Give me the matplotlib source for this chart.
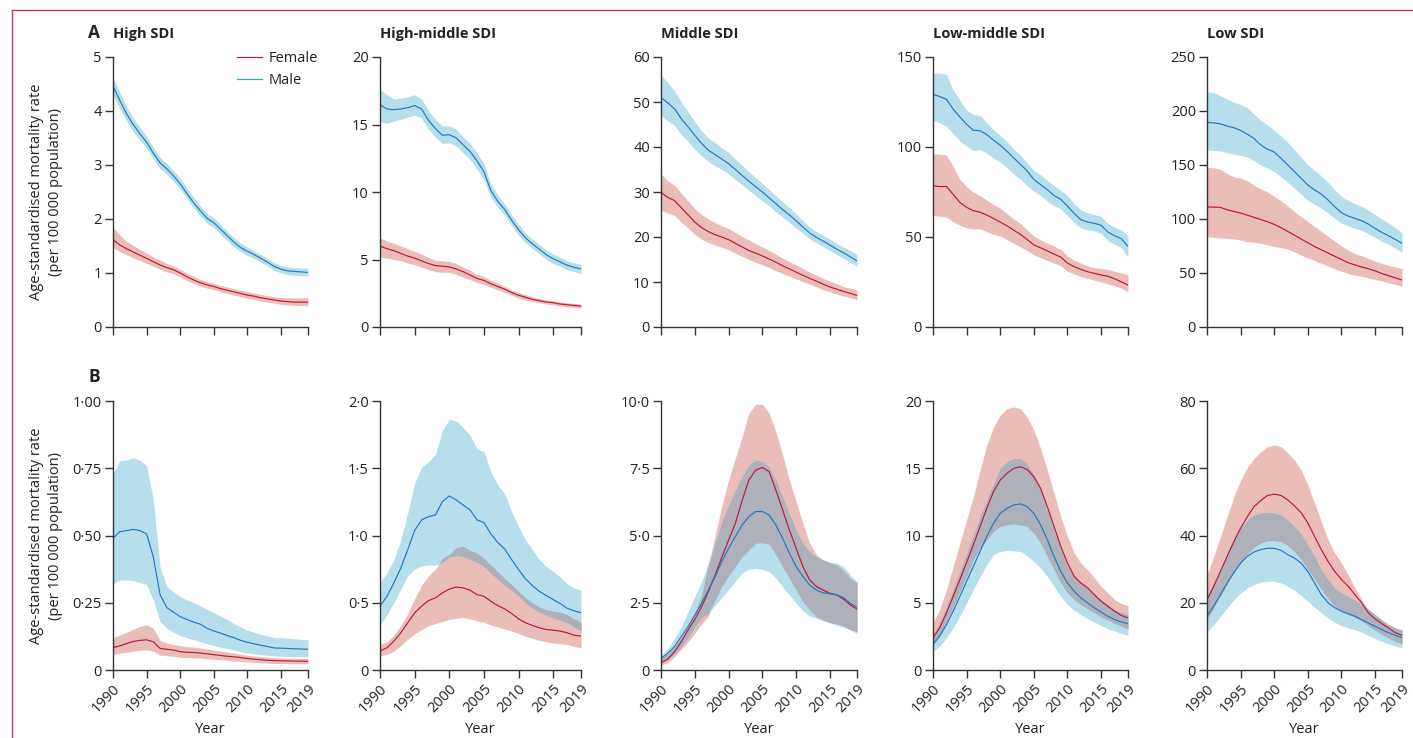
import matplotlib
matplotlib.use("Agg")
import matplotlib.pyplot as plt
import numpy as np
from matplotlib.lines import Line2D

plt.rcParams['font.family'] = ['Open Sans', 'DejaVu Sans']

years = np.arange(1990, 2020)
x_ticks = [1990, 1995, 2000, 2005, 2010, 2015, 2019]
titles = ["High SDI", "High-middle SDI", "Middle SDI", "Low-middle SDI", "Low SDI"]

# ---- row A ----
a1_f = [1.62, 1.52, 1.45, 1.39, 1.33, 1.27, 1.21, 1.15, 1.1, 1.06, 1.0, 0.93, 0.87, 0.82, 0.78, 0.75, 0.71, 0.68, 0.65, 0.62, 0.59, 0.57, 0.54, 0.52, 0.5, 0.48, 0.47, 0.46, 0.46, 0.46]
a1_f_hi = [1.85, 1.7, 1.59, 1.51, 1.44, 1.37, 1.3, 1.24, 1.18, 1.13, 1.07, 1.0, 0.94, 0.88, 0.84, 0.81, 0.77, 0.74, 0.71, 0.68, 0.65, 0.63, 0.6, 0.58, 0.56, 0.55, 0.54, 0.54, 0.54, 0.54]
a1_f_lo = [1.47, 1.4, 1.34, 1.28, 1.23, 1.18, 1.12, 1.07, 1.02, 0.99, 0.93, 0.86, 0.81, 0.76, 0.72, 0.69, 0.65, 0.62, 0.59, 0.56, 0.53, 0.51, 0.48, 0.46, 0.44, 0.42, 0.41, 0.4, 0.4, 0.4]
a1_m = [4.46, 4.2, 3.95, 3.75, 3.58, 3.42, 3.22, 3.04, 2.93, 2.8, 2.65, 2.47, 2.3, 2.15, 2.01, 1.93, 1.81, 1.69, 1.57, 1.47, 1.4, 1.34, 1.27, 1.2, 1.12, 1.07, 1.04, 1.03, 1.02, 1.01]
a1_m_hi = [4.62, 4.35, 4.08, 3.87, 3.7, 3.53, 3.33, 3.14, 3.03, 2.9, 2.75, 2.57, 2.4, 2.24, 2.1, 2.02, 1.9, 1.77, 1.65, 1.55, 1.48, 1.41, 1.34, 1.27, 1.19, 1.14, 1.11, 1.1, 1.09, 1.09]
a1_m_lo = [4.3, 4.05, 3.82, 3.62, 3.46, 3.31, 3.11, 2.93, 2.83, 2.7, 2.55, 2.38, 2.21, 2.06, 1.92, 1.84, 1.72, 1.6, 1.48, 1.39, 1.32, 1.27, 1.2, 1.13, 1.05, 1.0, 0.97, 0.96, 0.95, 0.94]

a2_f = [6.0, 5.8, 5.65, 5.45, 5.25, 5.1, 4.9, 4.7, 4.55, 4.5, 4.45, 4.3, 4.1, 3.85, 3.6, 3.45, 3.2, 3.0, 2.8, 2.55, 2.35, 2.2, 2.05, 1.95, 1.85, 1.8, 1.7, 1.65, 1.6, 1.55]
a2_f_hi = [6.6, 6.35, 6.2, 6.0, 5.8, 5.6, 5.4, 5.15, 4.95, 4.9, 4.85, 4.7, 4.45, 4.2, 3.9, 3.75, 3.45, 3.25, 3.0, 2.75, 2.55, 2.4, 2.25, 2.1, 2.0, 1.95, 1.85, 1.8, 1.75, 1.7]
a2_f_lo = [5.2, 5.1, 5.0, 4.9, 4.75, 4.6, 4.45, 4.25, 4.1, 4.05, 4.05, 3.9, 3.7, 3.5, 3.3, 3.15, 2.95, 2.75, 2.55, 2.35, 2.15, 2.0, 1.9, 1.8, 1.7, 1.65, 1.55, 1.5, 1.45, 1.4]
a2_m = [16.47, 16.15, 16.1, 16.15, 16.25, 16.4, 16.15, 15.3, 14.7, 14.2, 14.25, 14.0, 13.5, 13.0, 12.3, 11.5, 10.1, 9.3, 8.7, 7.9, 7.2, 6.6, 6.15, 5.75, 5.35, 5.05, 4.82, 4.58, 4.42, 4.3]
a2_m_hi = [17.6, 17.2, 16.9, 16.95, 17.05, 17.2, 16.9, 16.0, 15.4, 14.9, 14.9, 14.65, 14.1, 13.6, 12.9, 12.1, 10.6, 9.75, 9.1, 8.3, 7.6, 6.95, 6.5, 6.1, 5.7, 5.4, 5.15, 4.9, 4.75, 4.65]
a2_m_lo = [15.2, 15.1, 15.25, 15.4, 15.55, 15.7, 15.45, 14.65, 14.05, 13.6, 13.65, 13.4, 12.9, 12.4, 11.7, 10.9, 9.6, 8.85, 8.3, 7.5, 6.8, 6.25, 5.8, 5.4, 5.0, 4.7, 4.5, 4.25, 4.1, 3.95]

a3_f = [29.9, 28.8, 28.1, 26.5, 24.9, 23.3, 22.1, 21.2, 20.5, 20.0, 19.4, 18.6, 17.8, 17.0, 16.4, 15.8, 15.1, 14.4, 13.6, 12.9, 12.2, 11.5, 10.8, 10.2, 9.5, 8.9, 8.4, 7.9, 7.5, 7.0]
a3_f_hi = [34.0, 32.5, 31.5, 29.7, 28.0, 26.3, 25.0, 24.0, 23.2, 22.5, 21.9, 21.0, 20.1, 19.3, 18.5, 17.8, 17.0, 16.2, 15.3, 14.5, 13.8, 13.0, 12.2, 11.5, 10.8, 10.2, 9.6, 9.0, 8.6, 8.2]
a3_f_lo = [26.0, 25.3, 24.8, 23.3, 22.0, 20.6, 19.5, 18.8, 18.2, 17.7, 17.2, 16.4, 15.7, 15.0, 14.4, 13.8, 13.2, 12.5, 11.9, 11.3, 10.7, 10.1, 9.5, 8.9, 8.3, 7.8, 7.3, 6.9, 6.5, 6.1]
a3_m = [51.0, 49.8, 48.5, 46.3, 44.5, 42.6, 40.8, 39.3, 38.3, 37.3, 36.3, 35.0, 33.7, 32.4, 31.2, 30.0, 28.7, 27.4, 26.1, 24.9, 23.6, 22.2, 20.9, 19.9, 19.1, 18.2, 17.3, 16.5, 15.6, 14.7]
a3_m_hi = [56.0, 54.3, 52.5, 50.0, 47.8, 45.6, 43.6, 42.0, 41.0, 39.8, 38.8, 37.3, 35.9, 34.5, 33.2, 31.9, 30.6, 29.2, 27.8, 26.5, 25.1, 23.6, 22.2, 21.2, 20.4, 19.5, 18.6, 17.8, 17.0, 16.1]
a3_m_lo = [47.0, 45.8, 44.8, 42.8, 41.2, 39.5, 38.0, 36.8, 35.8, 35.0, 34.0, 32.8, 31.6, 30.4, 29.2, 28.0, 26.9, 25.6, 24.4, 23.2, 22.0, 20.8, 19.6, 18.7, 17.9, 17.0, 16.1, 15.3, 14.4, 13.5]

a4_f = [78.5, 78.0, 78.1, 73.7, 69.2, 66.5, 64.6, 63.8, 62.2, 60.3, 58.3, 56.2, 53.8, 51.5, 48.6, 45.6, 44.0, 42.3, 40.5, 38.8, 35.5, 33.5, 32.0, 30.7, 29.8, 28.9, 28.2, 26.8, 25.1, 23.3]
a4_f_hi = [96.3, 96.0, 95.5, 89.0, 82.0, 78.0, 75.0, 73.0, 70.5, 68.0, 66.0, 63.0, 60.0, 57.5, 54.0, 50.5, 48.5, 46.5, 45.0, 43.0, 39.5, 37.0, 35.5, 34.0, 33.0, 32.5, 32.0, 31.0, 30.0, 29.0]
a4_f_lo = [62.0, 61.5, 61.0, 58.5, 56.5, 55.0, 54.5, 54.5, 53.0, 51.5, 50.5, 48.5, 46.5, 44.5, 42.5, 40.0, 38.5, 37.0, 35.5, 34.0, 31.0, 29.5, 28.0, 27.0, 26.0, 25.0, 24.0, 23.0, 21.5, 19.5]
a4_m = [129.3, 128.0, 126.5, 121.0, 116.7, 112.6, 109.3, 109.0, 106.9, 103.7, 101.1, 97.6, 93.9, 90.4, 86.7, 81.9, 79.1, 76.3, 73.0, 70.9, 67.2, 63.0, 59.6, 58.3, 57.6, 56.5, 52.8, 50.7, 49.1, 44.8]
a4_m_hi = [141.1, 141.0, 140.4, 131.5, 126.0, 120.5, 118.1, 117.5, 113.5, 109.5, 106.5, 103.0, 99.0, 95.5, 91.0, 87.0, 84.5, 81.5, 78.5, 76.0, 73.0, 68.5, 65.0, 63.5, 62.5, 61.5, 57.5, 55.5, 54.0, 50.5]
a4_m_lo = [114.8, 113.5, 111.5, 107.5, 103.5, 100.5, 98.0, 98.5, 96.5, 94.0, 91.5, 88.5, 85.0, 82.0, 78.5, 75.5, 73.0, 70.0, 67.5, 65.5, 62.0, 58.0, 55.0, 54.0, 53.5, 52.0, 48.0, 46.0, 44.0, 39.0]

a5_f = [111.1, 111.0, 110.8, 108.5, 107.0, 105.5, 103.5, 101.5, 99.5, 97.5, 95.0, 92.0, 88.5, 85.0, 81.5, 78.0, 74.5, 71.5, 68.5, 65.5, 62.5, 59.5, 57.5, 55.5, 54.0, 52.0, 49.5, 47.5, 45.5, 43.5]
a5_f_hi = [147.9, 147.5, 146.0, 142.0, 139.0, 138.0, 135.5, 131.0, 128.0, 125.0, 121.0, 117.0, 112.0, 107.0, 102.0, 97.5, 93.0, 88.5, 84.0, 79.5, 75.0, 71.0, 68.0, 66.0, 63.5, 61.0, 59.0, 57.0, 55.5, 54.0]
a5_f_lo = [83.5, 83.0, 82.5, 82.0, 81.5, 80.5, 79.0, 78.5, 77.5, 76.0, 74.5, 73.5, 72.0, 69.5, 66.5, 64.0, 61.5, 59.0, 56.5, 54.0, 51.5, 49.5, 48.0, 47.0, 45.5, 44.0, 42.5, 41.0, 39.5, 38.0]
a5_m = [189.4, 189.0, 188.1, 186.0, 184.5, 182.0, 178.5, 174.5, 168.5, 164.5, 162.0, 156.2, 150.0, 143.9, 137.7, 131.5, 126.9, 123.1, 117.6, 111.4, 105.8, 102.7, 100.6, 98.4, 95.3, 91.3, 87.6, 84.5, 81.1, 77.4]
a5_m_hi = [217.5, 217.0, 214.0, 211.0, 208.0, 206.0, 203.0, 197.0, 191.0, 187.0, 182.0, 177.0, 171.0, 164.0, 157.0, 150.0, 145.0, 140.0, 134.0, 127.0, 121.0, 117.0, 114.0, 112.0, 108.0, 104.0, 100.0, 96.0, 92.0, 87.0]
a5_m_lo = [164.3, 163.5, 163.0, 161.5, 160.0, 159.0, 157.5, 154.0, 150.0, 147.0, 144.0, 139.0, 134.0, 128.5, 123.0, 117.5, 113.5, 110.0, 105.5, 100.5, 96.0, 93.5, 91.5, 89.5, 86.5, 83.0, 79.5, 76.5, 73.0, 69.0]

# ---- row B ----
b1_f = [0.083, 0.09, 0.098, 0.106, 0.11, 0.112, 0.105, 0.08, 0.077, 0.074, 0.068, 0.066, 0.065, 0.063, 0.06, 0.057, 0.054, 0.051, 0.049, 0.046, 0.043, 0.04, 0.038, 0.036, 0.035, 0.034, 0.034, 0.033, 0.033, 0.032]
b1_f_hi = [0.12, 0.13, 0.14, 0.152, 0.162, 0.168, 0.155, 0.11, 0.1, 0.095, 0.09, 0.087, 0.085, 0.082, 0.078, 0.074, 0.07, 0.067, 0.063, 0.059, 0.055, 0.052, 0.05, 0.048, 0.046, 0.045, 0.044, 0.044, 0.043, 0.043]
b1_f_lo = [0.058, 0.062, 0.066, 0.07, 0.073, 0.075, 0.07, 0.055, 0.053, 0.051, 0.047, 0.046, 0.045, 0.044, 0.042, 0.04, 0.038, 0.036, 0.034, 0.032, 0.03, 0.028, 0.027, 0.025, 0.024, 0.024, 0.023, 0.023, 0.023, 0.023]
b1_m = [0.49, 0.514, 0.518, 0.523, 0.518, 0.506, 0.42, 0.28, 0.232, 0.215, 0.198, 0.188, 0.178, 0.17, 0.155, 0.145, 0.137, 0.128, 0.12, 0.11, 0.103, 0.097, 0.092, 0.087, 0.082, 0.081, 0.08, 0.079, 0.078, 0.077]
b1_m_hi = [0.73, 0.778, 0.78, 0.789, 0.78, 0.758, 0.632, 0.384, 0.31, 0.29, 0.273, 0.26, 0.25, 0.238, 0.225, 0.213, 0.2, 0.188, 0.172, 0.16, 0.148, 0.14, 0.133, 0.127, 0.12, 0.12, 0.118, 0.116, 0.114, 0.112]
b1_m_lo = [0.32, 0.335, 0.334, 0.333, 0.325, 0.318, 0.26, 0.18, 0.155, 0.14, 0.128, 0.12, 0.113, 0.105, 0.097, 0.091, 0.085, 0.08, 0.074, 0.068, 0.063, 0.06, 0.057, 0.055, 0.052, 0.051, 0.05, 0.05, 0.05, 0.049]

b2_f = [0.141, 0.165, 0.215, 0.277, 0.351, 0.425, 0.474, 0.516, 0.536, 0.573, 0.602, 0.617, 0.61, 0.593, 0.56, 0.548, 0.511, 0.479, 0.454, 0.42, 0.38, 0.351, 0.331, 0.314, 0.301, 0.296, 0.289, 0.277, 0.259, 0.252]
b2_f_hi = [0.19, 0.21, 0.26, 0.33, 0.42, 0.53, 0.63, 0.7, 0.75, 0.83, 0.86, 0.91, 0.92, 0.89, 0.87, 0.83, 0.78, 0.73, 0.68, 0.635, 0.585, 0.535, 0.5, 0.467, 0.449, 0.437, 0.43, 0.412, 0.38, 0.356]
b2_f_lo = [0.104, 0.115, 0.14, 0.18, 0.23, 0.27, 0.3, 0.33, 0.345, 0.36, 0.375, 0.385, 0.39, 0.38, 0.365, 0.355, 0.335, 0.32, 0.305, 0.29, 0.27, 0.25, 0.235, 0.22, 0.21, 0.2, 0.195, 0.19, 0.175, 0.165]
b2_m = [0.474, 0.548, 0.647, 0.758, 0.894, 1.037, 1.116, 1.14, 1.153, 1.252, 1.294, 1.264, 1.227, 1.19, 1.116, 1.096, 1.012, 0.948, 0.899, 0.82, 0.746, 0.677, 0.627, 0.585, 0.553, 0.523, 0.494, 0.459, 0.44, 0.425]
b2_m_hi = [0.652, 0.721, 0.82, 0.968, 1.165, 1.388, 1.506, 1.548, 1.605, 1.783, 1.864, 1.852, 1.802, 1.746, 1.642, 1.622, 1.474, 1.375, 1.309, 1.178, 1.067, 0.968, 0.894, 0.82, 0.77, 0.733, 0.691, 0.642, 0.61, 0.593]
b2_m_lo = [0.338, 0.41, 0.5, 0.6, 0.7, 0.75, 0.775, 0.78, 0.78, 0.8, 0.84, 0.85, 0.845, 0.82, 0.8, 0.77, 0.72, 0.67, 0.63, 0.59, 0.55, 0.5, 0.46, 0.43, 0.405, 0.385, 0.37, 0.35, 0.32, 0.29]

b3_f = [0.27, 0.4, 0.68, 1.05, 1.49, 1.88, 2.35, 2.91, 3.53, 4.19, 4.83, 5.45, 6.3, 7.06, 7.43, 7.53, 7.37, 6.69, 5.95, 5.2, 4.52, 3.84, 3.35, 3.1, 2.97, 2.85, 2.79, 2.63, 2.42, 2.26]
b3_f_hi = [0.45, 0.6, 0.85, 1.2, 1.6, 2.1, 2.8, 3.9, 5.0, 6.1, 7.06, 7.87, 8.67, 9.54, 9.88, 9.88, 9.54, 8.86, 7.99, 7.06, 6.26, 5.45, 4.71, 4.28, 4.09, 3.99, 3.9, 3.7, 3.41, 3.25]
b3_f_lo = [0.19, 0.27, 0.5, 0.77, 1.05, 1.36, 1.71, 2.0, 2.6, 3.1, 3.5, 3.84, 4.21, 4.46, 4.71, 4.73, 4.68, 4.28, 3.84, 3.41, 2.97, 2.54, 2.23, 1.98, 1.86, 1.76, 1.71, 1.64, 1.49, 1.36]
b3_m = [0.43, 0.62, 0.87, 1.24, 1.61, 2.04, 2.48, 2.97, 3.47, 4.03, 4.52, 4.96, 5.39, 5.7, 5.89, 5.89, 5.76, 5.39, 4.89, 4.34, 3.84, 3.47, 3.16, 2.97, 2.87, 2.83, 2.79, 2.69, 2.48, 2.33]
b3_m_hi = [0.56, 0.8, 1.18, 1.61, 2.17, 2.73, 3.28, 3.97, 4.71, 5.51, 6.13, 6.69, 7.19, 7.62, 7.81, 7.74, 7.56, 7.06, 6.44, 5.82, 5.2, 4.71, 4.4, 4.21, 4.09, 4.0, 3.97, 3.84, 3.53, 3.28]
b3_m_lo = [0.28, 0.4, 0.6, 0.85, 1.2, 1.6, 1.95, 2.1, 2.4, 2.7, 3.0, 3.3, 3.62, 3.74, 3.78, 3.74, 3.66, 3.41, 3.1, 2.79, 2.48, 2.21, 2.01, 1.92, 1.83, 1.76, 1.67, 1.59, 1.5, 1.43]

b4_f = [2.4, 3.14, 4.25, 5.48, 6.72, 8.0, 9.31, 10.67, 12.02, 13.26, 14.12, 14.62, 14.99, 15.11, 14.91, 14.37, 13.51, 12.15, 10.67, 9.19, 7.95, 6.96, 6.47, 6.1, 5.6, 5.11, 4.74, 4.37, 4.05, 3.88]
b4_f_hi = [3.5, 4.5, 5.98, 7.7, 9.43, 11.16, 12.89, 14.86, 16.72, 18.07, 18.94, 19.43, 19.56, 19.43, 18.81, 17.83, 16.47, 14.86, 13.14, 11.41, 9.93, 8.69, 7.95, 7.46, 6.84, 6.22, 5.73, 5.23, 4.94, 4.79]
b4_f_lo = [2.02, 2.64, 3.63, 4.74, 5.85, 6.96, 8.2, 9.06, 9.68, 10.3, 10.67, 10.79, 10.86, 10.79, 10.67, 10.17, 9.43, 8.44, 7.46, 6.47, 5.73, 5.23, 4.86, 4.54, 4.25, 3.95, 3.7, 3.46, 3.26, 3.06]
b4_m = [1.9, 2.52, 3.38, 4.37, 5.48, 6.59, 7.7, 8.81, 9.93, 10.91, 11.65, 12.02, 12.27, 12.35, 12.15, 11.65, 10.79, 9.68, 8.44, 7.33, 6.47, 5.85, 5.36, 4.99, 4.62, 4.3, 4.0, 3.75, 3.56, 3.46]
b4_m_hi = [2.64, 3.5, 4.74, 5.98, 7.33, 8.69, 10.05, 11.41, 12.64, 13.88, 14.99, 15.48, 15.73, 15.73, 15.36, 14.49, 13.38, 11.9, 10.42, 8.94, 7.7, 6.96, 6.47, 6.02, 5.6, 5.23, 4.86, 4.49, 4.3, 4.12]
b4_m_lo = [1.41, 1.78, 2.4, 3.14, 4.0, 4.99, 5.98, 6.96, 7.83, 8.57, 8.81, 8.89, 8.86, 8.81, 8.49, 8.07, 7.58, 6.96, 6.22, 5.48, 4.86, 4.44, 4.12, 3.8, 3.56, 3.31, 3.06, 2.89, 2.72, 2.57]

b5_f = [20.9, 24.9, 29.3, 33.8, 38.2, 42.2, 45.6, 48.6, 50.4, 51.9, 52.3, 51.9, 50.6, 48.8, 46.8, 43.7, 39.7, 35.8, 32.3, 29.3, 26.9, 24.9, 22.4, 20.0, 17.0, 15.2, 13.8, 12.5, 11.1, 10.3]
b5_f_hi = [28.3, 33.8, 39.7, 45.6, 51.6, 56.5, 60.2, 62.9, 64.9, 66.4, 66.9, 66.4, 64.6, 62.4, 59.5, 55.0, 49.6, 44.1, 38.7, 34.8, 31.8, 28.3, 24.4, 20.9, 18.0, 16.5, 14.8, 13.5, 12.5, 11.9]
b5_f_lo = [15.0, 18.5, 22.0, 25.5, 29.0, 32.0, 34.5, 36.5, 37.8, 38.4, 38.5, 38.2, 37.0, 35.2, 32.8, 30.0, 27.0, 24.0, 21.3, 19.0, 17.5, 16.5, 15.6, 14.5, 13.2, 11.8, 10.6, 9.5, 8.5, 7.8]
b5_m = [16.0, 19.0, 22.4, 25.9, 29.0, 31.8, 33.8, 35.1, 35.8, 36.2, 36.2, 35.6, 34.3, 33.3, 31.8, 29.3, 25.9, 22.4, 20.0, 18.5, 17.5, 16.7, 16.0, 15.0, 14.0, 13.0, 12.0, 11.1, 10.3, 9.6]
b5_m_hi = [21.9, 25.9, 30.3, 34.8, 38.7, 42.2, 44.6, 46.1, 46.8, 46.9, 46.8, 46.1, 44.6, 42.7, 40.5, 37.2, 33.8, 29.8, 26.9, 24.4, 22.9, 21.9, 20.9, 19.5, 18.0, 16.5, 15.0, 13.5, 12.5, 11.9]
b5_m_lo = [11.3, 13.5, 16.0, 18.5, 20.9, 22.9, 24.4, 25.4, 26.1, 26.4, 26.4, 25.9, 24.9, 23.7, 22.1, 20.4, 18.7, 17.0, 15.5, 14.2, 13.2, 12.5, 12.0, 11.3, 10.3, 9.3, 8.5, 7.8, 7.1, 6.6]

# y ticks per panel
a_yticks = [[0, 1, 2, 3, 4, 5], [0, 5, 10, 15, 20], [0, 10, 20, 30, 40, 50, 60],
            [0, 50, 100, 150], [0, 50, 100, 150, 200, 250]]
b_yticks = [[0, 0.25, 0.5, 0.75, 1.0], [0, 0.5, 1.0, 1.5, 2.0], [0, 2.5, 5.0, 7.5, 10.0],
            [0, 5, 10, 15, 20], [0, 20, 40, 60, 80]]
b_ylabels = [["0", "0·25", "0·50", "0·75", "1·00"], ["0", "0·5", "1·0", "1·5", "2·0"],
             ["0", "2·5", "5·0", "7·5", "10·0"], ["0", "5", "10", "15", "20"],
             ["0", "20", "40", "60", "80"]]

row_a = [(a1_f, a1_f_lo, a1_f_hi, a1_m, a1_m_lo, a1_m_hi),
         (a2_f, a2_f_lo, a2_f_hi, a2_m, a2_m_lo, a2_m_hi),
         (a3_f, a3_f_lo, a3_f_hi, a3_m, a3_m_lo, a3_m_hi),
         (a4_f, a4_f_lo, a4_f_hi, a4_m, a4_m_lo, a4_m_hi),
         (a5_f, a5_f_lo, a5_f_hi, a5_m, a5_m_lo, a5_m_hi)]
row_b = [(b1_f, b1_f_lo, b1_f_hi, b1_m, b1_m_lo, b1_m_hi),
         (b2_f, b2_f_lo, b2_f_hi, b2_m, b2_m_lo, b2_m_hi),
         (b3_f, b3_f_lo, b3_f_hi, b3_m, b3_m_lo, b3_m_hi),
         (b4_f, b4_f_lo, b4_f_hi, b4_m, b4_m_lo, b4_m_hi),
         (b5_f, b5_f_lo, b5_f_hi, b5_m, b5_m_lo, b5_m_hi)]

F_LINE = "#c0163f"
M_LINE = "#2179c2"
F_BAND = "#ebbdb8"
M_BAND = "#b6deeb"
OVERLAP = "#aeb1ba"
AXIS = "#333333"
TXT = "#222222"
FS = 10.5

W, H = 1413, 738
fig = plt.figure(figsize=(W / 100, H / 100), dpi=100)

# panel geometry in pixels
lefts = [113, 380, 661, 933, 1207]
widths = [195, 201, 196, 195, 195]
row_tops = [57, 401]
row_bots = [327, 670]


def draw(ax, series, yticks, ylabels, xlabels):
    f, f_lo, f_hi, m, m_lo, m_hi = [np.asarray(s) for s in series]
    ax.fill_between(years, f_lo, f_hi, color=F_BAND, lw=0)
    ax.fill_between(years, m_lo, m_hi, color=M_BAND, lw=0)
    top = np.minimum(f_hi, m_hi)
    bot = np.maximum(f_lo, m_lo)
    ax.fill_between(years, bot, top, where=top > bot, interpolate=True, color=OVERLAP, lw=0)
    ax.plot(years, f, color=F_LINE, lw=0.85, label="Female")
    ax.plot(years, m, color=M_LINE, lw=0.85, label="Male")
    ax.set_xlim(1990, 2019)
    ax.set_ylim(yticks[0], yticks[-1])
    ax.set_yticks(yticks)
    ax.set_yticklabels(ylabels)
    ax.set_xticks(x_ticks)
    if xlabels:
        ax.set_xticklabels([str(t) for t in x_ticks], rotation=45, ha="right",
                           rotation_mode="anchor")
        ax.set_xlabel("Year", fontsize=FS, color=TXT, labelpad=5)
    else:
        ax.set_xticklabels([])
    for s in ["top", "right"]:
        ax.spines[s].set_visible(False)
    for s in ["left", "bottom"]:
        ax.spines[s].set_color(AXIS)
        ax.spines[s].set_linewidth(1.0)
    ax.tick_params(direction="out", length=6, width=1.0, color=AXIS,
                   labelsize=FS, labelcolor=TXT, pad=2)
    ax.set_facecolor("none")


axes_a = []
for r in range(2):
    for c in range(5):
        rect = [lefts[c] / W, 1 - row_bots[r] / H, widths[c] / W,
                (row_bots[r] - row_tops[r]) / H]
        ax = fig.add_axes(rect)
        if r == 0:
            yt = a_yticks[c]
            draw(ax, row_a[c], yt, [str(t) for t in yt], False)
            axes_a.append(ax)
            fig.text(lefts[c] / W, 1 - 34 / H, titles[c], fontsize=10.5, fontweight="bold",
                     ha="left", va="center", color=TXT)
        else:
            draw(ax, row_b[c], b_yticks[c], b_ylabels[c], True)
        if c == 0:
            mid = (row_tops[r] + row_bots[r]) / 2
            fig.text(46 / W, 1 - mid / H,
                     "Age-standardised mortality rate\n(per 100 000 population)",
                     rotation=90, ha="center", va="center", multialignment="center",
                     fontsize=FS, color=TXT, linespacing=1.45)

fig.text(88 / W, 1 - 33 / H, "A", fontsize=12.5, fontweight="bold", ha="left", va="center",
         color=TXT)
fig.text(88 / W, 1 - 377 / H, "B", fontsize=12.5, fontweight="bold", ha="left", va="center",
         color=TXT)

leg = axes_a[0].legend(loc="upper left", bbox_to_anchor=(0.635, 1.022), frameon=False,
                       handlelength=1.75, handletextpad=0.45, borderpad=0, borderaxespad=0,
                       labelspacing=0.45, fontsize=FS)
leg.get_lines()[1].set_color("#29a6dc")
for t in leg.get_texts():
    t.set_color(TXT)

# thin frame lines along top and left edges
fig.add_artist(Line2D([12 / W, 1], [1 - 10 / H, 1 - 10 / H], color="#c9345d", lw=1.0))
fig.add_artist(Line2D([12 / W, 12 / W], [0, 1 - 10 / H], color="#c9345d", lw=1.0))

fig.savefig("out.png", dpi=100, facecolor="white")
